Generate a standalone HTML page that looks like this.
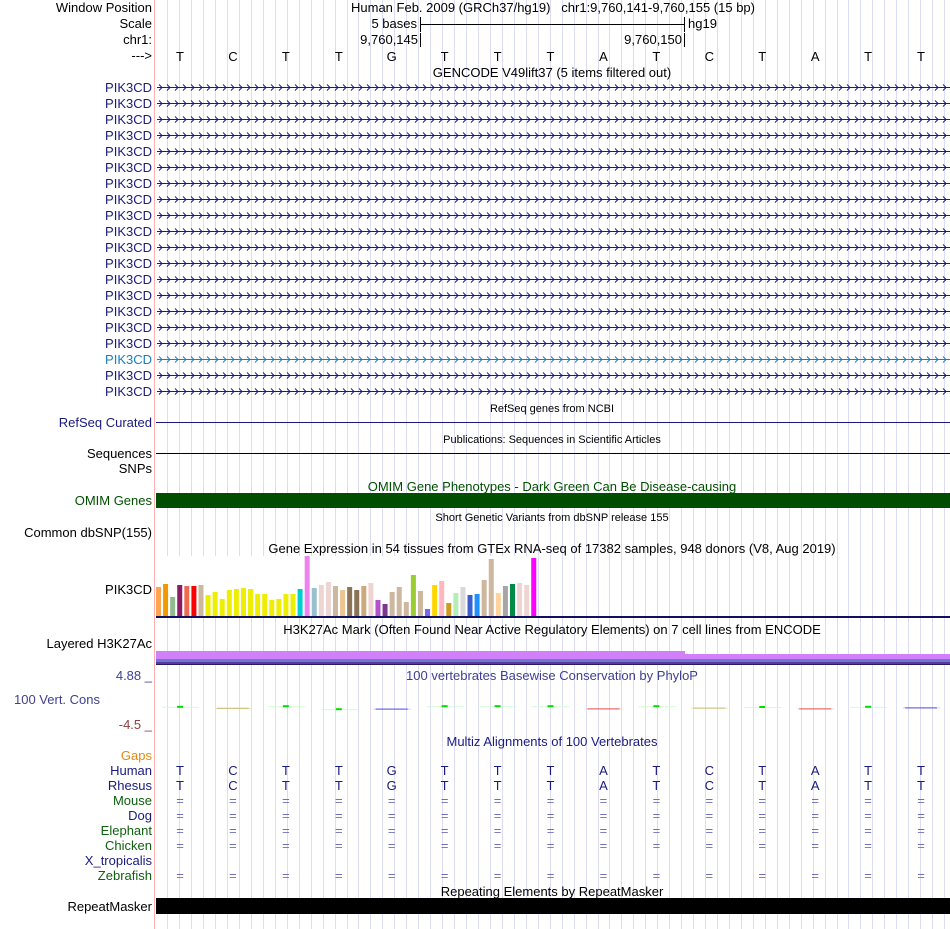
<!DOCTYPE html>
<html><head><meta charset="utf-8">
<style>
html,body{margin:0;padding:0;background:#fff;}
svg{display:block;font-family:"Liberation Sans",sans-serif;}
</style></head>
<body>
<svg id="chart" width="950" height="929" viewBox="0 0 950 929" xmlns="http://www.w3.org/2000/svg">
<g id="grid"></g>
<line x1="154.5" y1="0" x2="154.5" y2="929" stroke="#ffb0b0" stroke-width="1"/>

<g font-size="13" fill="#000">
<text x="152" y="12" text-anchor="end">Window Position</text>
<text x="152" y="28" text-anchor="end">Scale</text>
<text x="152" y="44" text-anchor="end">chr1:</text>
<text x="152" y="60" text-anchor="end">---&gt;</text>
<text x="553" y="12" text-anchor="middle" xml:space="preserve">Human Feb. 2009 (GRCh37/hg19)   chr1:9,760,141-9,760,155 (15 bp)</text>
<text x="417" y="28" text-anchor="end">5 bases</text>
<text x="688" y="28">hg19</text>
<text x="418" y="44" text-anchor="end">9,760,145</text>
<text x="682" y="44" text-anchor="end">9,760,150</text>
</g>
<g stroke="#000" stroke-width="1">
<line x1="420.5" y1="24.5" x2="684.5" y2="24.5"/>
<line x1="420.5" y1="17" x2="420.5" y2="32"/>
<line x1="684.5" y1="17" x2="684.5" y2="32"/>
<line x1="420.5" y1="33" x2="420.5" y2="47"/>
<line x1="684.5" y1="33" x2="684.5" y2="47"/>
</g>
<g id="bases" font-size="13" text-anchor="middle"></g>

<text x="552" y="77" font-size="13" text-anchor="middle">GENCODE V49lift37 (5 items filtered out)</text>
<g id="gencode"></g>

<text x="552" y="412" font-size="11" text-anchor="middle">RefSeq genes from NCBI</text>
<text x="152" y="427" font-size="13" text-anchor="end" fill="#1a1a80">RefSeq Curated</text>
<line x1="156" y1="422.5" x2="950" y2="422.5" stroke="#1a1a80"/>

<text x="552" y="443" font-size="11" text-anchor="middle">Publications: Sequences in Scientific Articles</text>
<text x="152" y="458" font-size="13" text-anchor="end">Sequences</text>
<line x1="156" y1="453.5" x2="950" y2="453.5" stroke="#000"/>
<text x="152" y="473" font-size="13" text-anchor="end">SNPs</text>

<text x="552" y="491" font-size="13" text-anchor="middle" fill="#005000">OMIM Gene Phenotypes - Dark Green Can Be Disease-causing</text>
<text x="152" y="505" font-size="13" text-anchor="end" fill="#005000">OMIM Genes</text>
<rect x="156" y="493" width="794" height="15" fill="#004e00"/>

<text x="552" y="521" font-size="11" text-anchor="middle">Short Genetic Variants from dbSNP release 155</text>
<text x="152" y="537" font-size="13" text-anchor="end">Common dbSNP(155)</text>

<text x="552" y="553" font-size="13" text-anchor="middle">Gene Expression in 54 tissues from GTEx RNA-seq of 17382 samples, 948 donors (V8, Aug 2019)</text>
<text x="152" y="594" font-size="13" text-anchor="end">PIK3CD</text>
<rect x="156" y="556" width="381" height="61" fill="#fff"/>
<g id="gtex"></g>
<rect x="156" y="616" width="794" height="2" fill="#101060"/>

<text x="552" y="634" font-size="13" text-anchor="middle">H3K27Ac Mark (Often Found Near Active Regulatory Elements) on 7 cell lines from ENCODE</text>
<text x="152" y="648" font-size="13" text-anchor="end">Layered H3K27Ac</text>
<g>
<rect x="156" y="651" width="529" height="9" fill="#d080f8"/>
<rect x="685" y="654" width="265" height="6" fill="#d080f8"/>
<rect x="156" y="659" width="794" height="3" fill="#6a78d0"/>
<rect x="156" y="662" width="794" height="3" fill="#5a3aa0"/>
<rect x="156" y="664" width="794" height="1" fill="#2a1a60"/>
</g>

<text x="152" y="680" font-size="13" text-anchor="end" fill="#404090">4.88 _</text>
<text x="552" y="680" font-size="13" text-anchor="middle" fill="#404090">100 vertebrates Basewise Conservation by PhyloP</text>
<text x="100" y="704" font-size="13" text-anchor="end" fill="#404090">100 Vert. Cons</text>
<text x="152" y="729" font-size="13" text-anchor="end" fill="#904040">-4.5 _</text>
<g id="cons"></g>

<text x="552" y="746" font-size="13" text-anchor="middle" fill="#1a1a80">Multiz Alignments of 100 Vertebrates</text>
<g font-size="13" text-anchor="end">
<text x="152" y="760" fill="#e08a10">Gaps</text>
<text x="152" y="775" fill="#1a1a80">Human</text>
<text x="152" y="790" fill="#1a1a80">Rhesus</text>
<text x="152" y="805" fill="#106010">Mouse</text>
<text x="152" y="820" fill="#1a1a80">Dog</text>
<text x="152" y="835" fill="#106010">Elephant</text>
<text x="152" y="850" fill="#106010">Chicken</text>
<text x="152" y="865" fill="#1a1a80">X_tropicalis</text>
<text x="152" y="880" fill="#106010">Zebrafish</text>
</g>
<g id="multiz" font-size="13" text-anchor="middle"></g>

<text x="552" y="896" font-size="13" text-anchor="middle">Repeating Elements by RepeatMasker</text>
<text x="152" y="911" font-size="13" text-anchor="end">RepeatMasker</text>
<rect x="156" y="898" width="794" height="16" fill="#000"/>
</svg>
<script>
const NS = "http://www.w3.org/2000/svg";
const bases = ["T","C","T","T","G","T","T","T","A","T","C","T","A","T","T"];
const tissues = ["Adipose Subcutaneous","Adipose Visceral","Adrenal Gland","Artery Aorta","Artery Coronary","Artery Tibial","Bladder","Brain Amygdala","Brain ACC","Brain Caudate","Brain Cerebellar Hem","Brain Cerebellum","Brain Cortex","Brain Frontal Cortex","Brain Hippocampus","Brain Hypothalamus","Brain Nucleus Accumbens","Brain Putamen","Brain Spinal Cord","Brain Substantia Nigra","Breast","EBV Lymphocytes","Fibroblasts","Cervix Ecto","Cervix Endo","Colon Sigmoid","Colon Transverse","Esophagus GEJ","Esophagus Mucosa","Esophagus Muscularis","Fallopian Tube","Heart Atrial","Heart Ventricle","Kidney Cortex","Kidney Medulla","Liver","Lung","Salivary Gland","Muscle Skeletal","Nerve Tibial","Ovary","Pancreas","Pituitary","Prostate","Skin Not Sun","Skin Sun","Small Intestine","Spleen","Stomach","Testis","Thyroid","Uterus","Vagina","Whole Blood"];
const tpm = [29,32,19,31,30,30,31,21,24,17,26,27,28,27,22,22,16,17,22,22,27,60,28,31,34,30,26,29,26,30,33,16,12,24,29,14,41,25,7,31,35,13,23,29,21,22,36,57,23,30,32,33,31,58];
const tissueColors = ["#FFA54F","#EE9A00","#8FBC8F","#8B1C62","#EE6A50","#FF0000","#CDB79E","#EEEE00","#EEEE00","#EEEE00","#EEEE00","#EEEE00","#EEEE00","#EEEE00","#EEEE00","#EEEE00","#EEEE00","#EEEE00","#EEEE00","#EEEE00","#00CDCD","#EE82EE","#9AC0CD","#EED5D2","#EED5D2","#CDB79E","#EEC591","#8B7355","#8B7355","#CDAA7D","#EED5D2","#B452CD","#7A378B","#CDB79E","#CDB79E","#CDB79E","#9ACD32","#CDB79E","#7A67EE","#FFD700","#FFB6C1","#CD9B1D","#B4EEB4","#D9D9D9","#3A5FCD","#1E90FF","#CDB79E","#CDB79E","#FFD39B","#A6A6A6","#008B45","#EED5D2","#EED5D2","#FF00FF"];
const phylop = [0.6,0.1,0.9,-0.6,-0.3,0.9,0.9,0.9,-0.2,0.9,0.2,0.5,-0.2,0.6,0.3];
const consColor = ["g","o","g","g","b","g","g","g","r","g","o","g","r","g","b"];
const geneRows = 20;
const species = ["Mouse","Dog","Elephant","Chicken","X_tropicalis","Zebrafish"];
const speciesAligned = [1,1,1,1,0,1];

function xBase(i){ return 180 + i*52.93; }
function xBar(i){ return 156 + i*7.08; }
function yBar(v){ return 616 - v; }
function yCons(v){ return 708 - v*2; }

// grid
const grid = document.getElementById('grid');
for (let x=167.3; x<950; x+=11.95){
  const l=document.createElementNS(NS,'line');
  l.setAttribute('x1',Math.round(x)+0.5);l.setAttribute('x2',Math.round(x)+0.5);
  l.setAttribute('y1',0);l.setAttribute('y2',929);
  l.setAttribute('stroke','#dcdcf4');
  
  
  grid.appendChild(l);
}
// bases
const bg=document.getElementById('bases');
bases.forEach((b,i)=>{
  const t=document.createElementNS(NS,'text');
  t.setAttribute('x',xBase(i));t.setAttribute('y',61);t.textContent=b;
  
  
  bg.appendChild(t);
});
// gencode
const gg=document.getElementById('gencode');
for(let r=0;r<geneRows;r++){
  const y=87+r*16;
  const col = r===17?'#1a80c0':'#1a1a80';
  const t=document.createElementNS(NS,'text');
  t.setAttribute('x',152);t.setAttribute('y',y+5);t.setAttribute('text-anchor','end');
  t.setAttribute('font-size',13);t.setAttribute('fill',col);
  t.textContent='PIK3CD';
  
  
  gg.appendChild(t);
  const l=document.createElementNS(NS,'line');
  l.setAttribute('x1',157);l.setAttribute('x2',950);l.setAttribute('y1',y+0.5);l.setAttribute('y2',y+0.5);
  l.setAttribute('stroke',col);
  
  
  gg.appendChild(l);
  let d='';
  for(let x=159;x<948;x+=8){ d+=`M${x},${y-2.5}L${x+3},${y+0.5}L${x},${y+3.5}`; }
  const p=document.createElementNS(NS,'path');
  p.setAttribute('d',d);p.setAttribute('fill','none');p.setAttribute('stroke',col);
  
  
  gg.appendChild(p);
}
// gtex bars
const gt=document.getElementById('gtex');
tpm.forEach((v,i)=>{
  const r=document.createElementNS(NS,'rect');
  r.setAttribute('x',xBar(i));r.setAttribute('width',5);
  r.setAttribute('y',yBar(v));r.setAttribute('height',616-yBar(v));
  r.setAttribute('fill',tissueColors[i]);
  
  
  const ti=document.createElementNS(NS,'title');ti.textContent=tissues[i];r.appendChild(ti);
  gt.appendChild(r);
});
// conservation
const cg=document.getElementById('cons');
const cmap={g:['#d8f8d8','#00e000'],o:['#ece6c4','#c8bc70'],b:['#d0d0f4','#5050e0'],r:['#f8d0d0','#e85050']};
phylop.forEach((v,i)=>{
  const x=xBase(i), y=yCons(v);
  const c=cmap[consColor[i]];
  const l=document.createElementNS(NS,'rect');
  l.setAttribute('x',x-18);l.setAttribute('width',37);l.setAttribute('y',y);l.setAttribute('height',1);
  l.setAttribute('fill',c[0]);
  
  
  cg.appendChild(l);
  const m=document.createElementNS(NS,'rect');
  if(consColor[i]==='g'){ m.setAttribute('x',x-3);m.setAttribute('width',6);m.setAttribute('y',y-1);m.setAttribute('height',2); }
  else { m.setAttribute('x',x-16);m.setAttribute('width',32);m.setAttribute('y',y);m.setAttribute('height',1); }
  m.setAttribute('fill',c[1]);
  
  
  cg.appendChild(m);
});
// multiz
const mz=document.getElementById('multiz');
bases.forEach((b,i)=>{
  [775,790].forEach(y=>{
    const t=document.createElementNS(NS,'text');
    t.setAttribute('x',xBase(i));t.setAttribute('y',y);t.setAttribute('fill','#1a1a80');t.textContent=b;
    
    
    mz.appendChild(t);
  });
  species.forEach((s,k)=>{
    if(!speciesAligned[k]) return;
    const t=document.createElementNS(NS,'text');
    t.setAttribute('x',xBase(i));t.setAttribute('y',805+k*15);t.setAttribute('fill','#7070b8');t.textContent='=';
    
    
    mz.appendChild(t);
  });
});
</script>
</body></html>
